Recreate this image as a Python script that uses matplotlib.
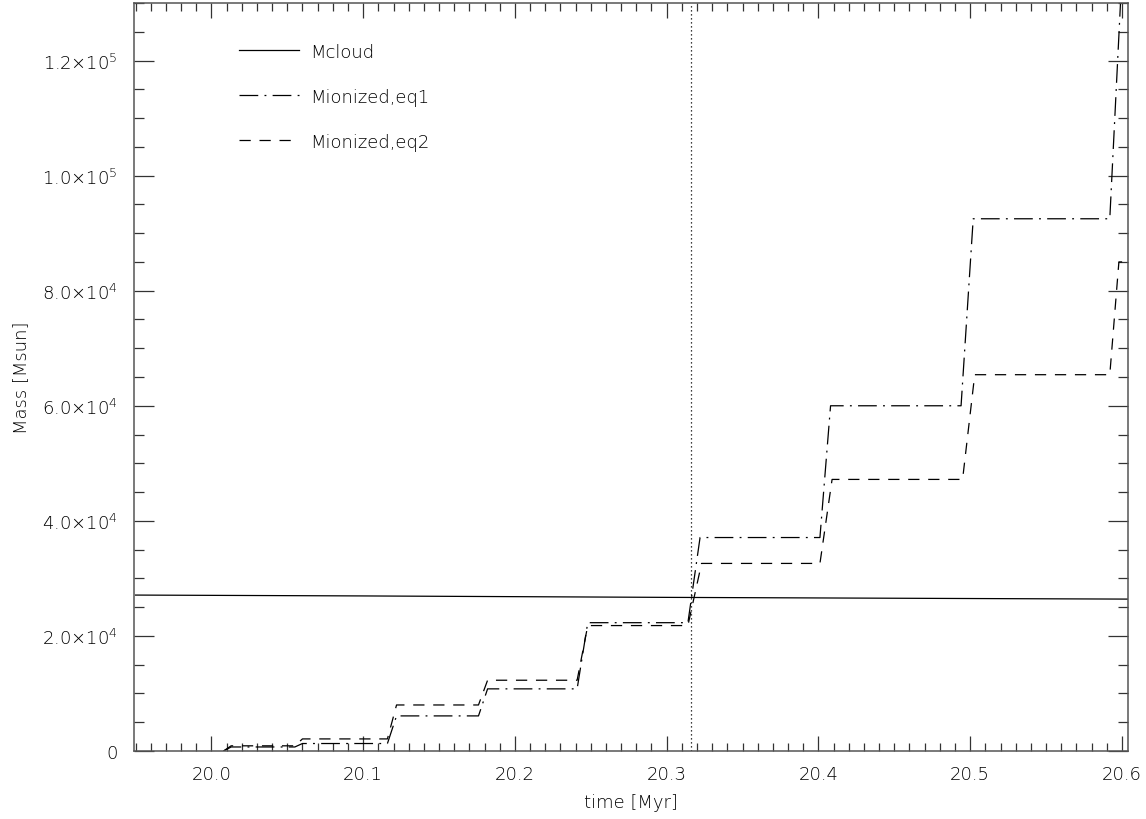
import matplotlib
matplotlib.use("Agg")
import matplotlib.pyplot as plt
from matplotlib.ticker import MultipleLocator, FixedLocator

plt.rcParams['font.family'] = ['DejaVu Sans']
plt.rcParams['font.weight'] = 'light'
plt.rcParams['mathtext.default'] = 'regular'

# cloud mass (slowly decreasing)
t_cloud = [19.95, 20.1, 20.3, 20.5, 20.604]
m_cloud = [27100, 26950, 26700, 26500, 26400]

# ionized mass, eq1 (dash-dot)
t_eq1 = [20.008, 20.013, 20.055, 20.060, 20.116, 20.122, 20.176, 20.182,
         20.241, 20.248, 20.314, 20.322, 20.401, 20.408, 20.494, 20.502,
         20.592, 20.600]
m_eq1 = [0, 700, 700, 1300, 1300, 6100, 6100, 10800,
         10800, 22300, 22300, 37100, 37100, 60000, 60000, 92500,
         92500, 135000]

# ionized mass, eq2 (dashed)
t_eq2 = [20.008, 20.013, 20.055, 20.060, 20.116, 20.122, 20.176, 20.182,
         20.241, 20.248, 20.314, 20.323, 20.401, 20.409, 20.495, 20.503,
         20.592, 20.598, 20.603]
m_eq2 = [0, 900, 900, 2100, 2100, 8000, 8000, 12300,
         12300, 21800, 21800, 32600, 32600, 47200, 47200, 65400,
         65400, 85000, 85000]

t_mark = 20.316

ytick_vals = [0, 2e4, 4e4, 6e4, 8e4, 1e5, 1.2e5]
ytick_labels = ['0', r'$2.0{\times}10^{4}$', r'$4.0{\times}10^{4}$', r'$6.0{\times}10^{4}$',
                r'$8.0{\times}10^{4}$', r'$1.0{\times}10^{5}$', r'$1.2{\times}10^{5}$']

fig = plt.figure(figsize=(11.46, 8.2), dpi=100)
ax = fig.add_axes([134/1146, 68/820, 994/1146, 748/820])

ax.plot(t_cloud, m_cloud, color='black', lw=0.9, label='Mcloud')
ax.plot(t_eq1, m_eq1, color='black', lw=0.9, linestyle=(0, (15, 5, 1.5, 5)), label='Mionized,eq1')
ax.plot(t_eq2, m_eq2, color='black', lw=0.9, linestyle=(0, (9, 7)), label='Mionized,eq2')
ax.axvline(t_mark, color='black', lw=0.9, linestyle=(0, (1, 2.2)))

ax.set_xlim(19.949, 20.604)
ax.set_ylim(0, 1.3e5)

ax.xaxis.set_major_locator(MultipleLocator(0.1))
ax.xaxis.set_minor_locator(MultipleLocator(0.01))
ax.yaxis.set_major_locator(FixedLocator(ytick_vals))
ax.yaxis.set_minor_locator(MultipleLocator(5000))
ax.set_yticklabels(ytick_labels)

ax.tick_params(axis='both', which='both', direction='in', top=True, right=True,
               color='#333333', labelcolor='black', labelsize=13, width=0.9)
ax.tick_params(axis='x', which='major', length=11, pad=10)
ax.tick_params(axis='x', which='minor', length=6)
ax.tick_params(axis='y', which='major', length=14.4, pad=12)
ax.tick_params(axis='y', which='minor', length=7.2)
for s in ax.spines.values():
    s.set_linewidth(1.1)
    s.set_color('#555555')

ax.set_xlabel('time [Myr]', fontsize=13, color='black', fontweight='light', labelpad=7)
ax.set_ylabel('Mass [Msun]', fontsize=13, color='black', fontweight='light', labelpad=8)

ax.legend(loc='upper left', bbox_to_anchor=(0.106, 0.947), frameon=False,
          fontsize=13, handlelength=3.3, handletextpad=0.6, labelspacing=1.5,
          borderpad=0, borderaxespad=0)

fig.savefig('out.png', dpi=100)
